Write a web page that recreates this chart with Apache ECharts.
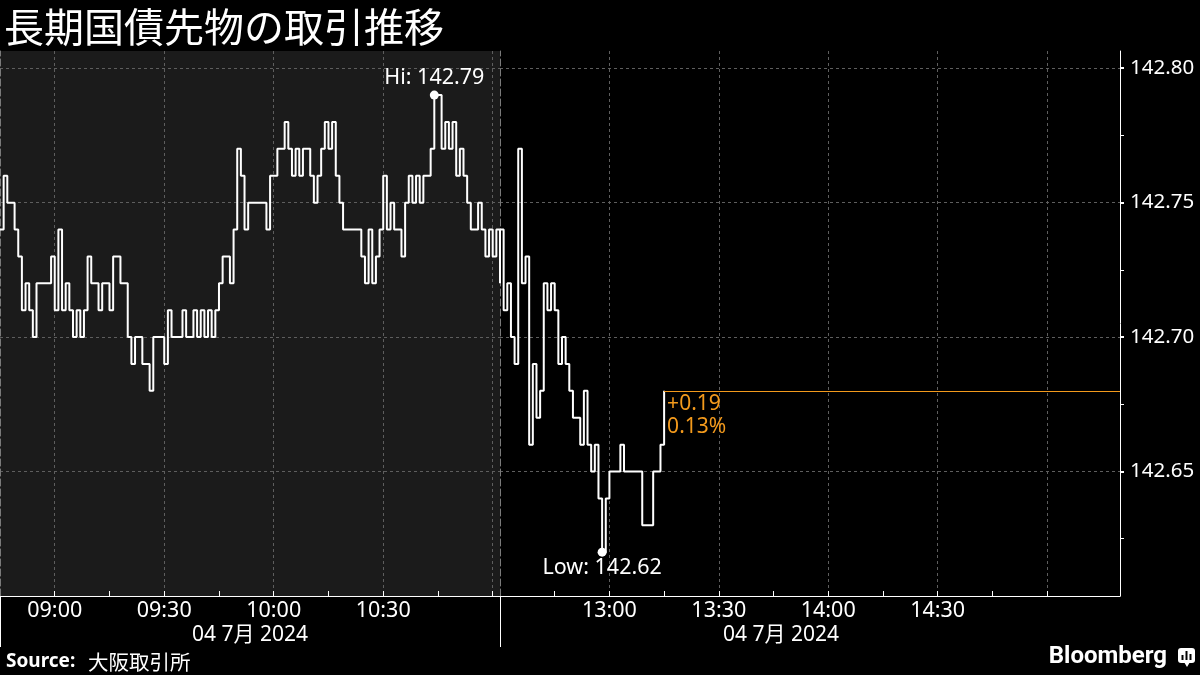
<!DOCTYPE html>
<html>
<head>
<meta charset="utf-8">
<script src="https://cdn.jsdelivr.net/npm/echarts@6/dist/echarts.min.js"></script>
<style>
  html, body { margin: 0; padding: 0; background: #000; }
  #chart { width: 1200px; height: 675px; }
</style>
</head>
<body>
<div id="chart"></div>
<script>
// minute categories for the two trading sessions
function buildTimes(from, to) {
    const toMin = s => Number(s.slice(0, 2)) * 60 + Number(s.slice(3, 5));
    const out = [];
    for (let m = toMin(from); m <= toMin(to); m++) {
        out.push(String(Math.floor(m / 60)).padStart(2, '0') + ':' + String(m % 60).padStart(2, '0'));
    }
    return out;
}
const amTimes = buildTimes('08:45', '11:02');
const pmTimes = buildTimes('12:30', '15:20');

// price, one value per minute
const amPrices = [
    142.74, 142.76, 142.75, 142.75, 142.74, 142.73, 142.71, 142.72, 142.71, 142.70,
    142.72, 142.72, 142.72, 142.72, 142.73, 142.71, 142.74, 142.71, 142.72, 142.71,
    142.70, 142.71, 142.70, 142.71, 142.73, 142.72, 142.72, 142.71, 142.72, 142.72,
    142.71, 142.73, 142.73, 142.72, 142.72, 142.70, 142.69, 142.70, 142.70, 142.69,
    142.69, 142.68, 142.70, 142.70, 142.70, 142.69, 142.71, 142.70, 142.70, 142.70,
    142.71, 142.70, 142.70, 142.71, 142.70, 142.71, 142.70, 142.71, 142.70, 142.71,
    142.72, 142.73, 142.73, 142.72, 142.74, 142.77, 142.76, 142.74, 142.75, 142.75,
    142.75, 142.75, 142.75, 142.74, 142.76, 142.76, 142.77, 142.77, 142.78, 142.77,
    142.76, 142.77, 142.76, 142.77, 142.77, 142.76, 142.75, 142.76, 142.77, 142.78,
    142.77, 142.78, 142.76, 142.75, 142.74, 142.74, 142.74, 142.74, 142.74, 142.73,
    142.72, 142.74, 142.72, 142.73, 142.74, 142.76, 142.74, 142.75, 142.74, 142.74,
    142.73, 142.75, 142.76, 142.75, 142.76, 142.75, 142.76, 142.76, 142.77, 142.79,
    142.79, 142.77, 142.78, 142.77, 142.78, 142.76, 142.77, 142.76, 142.75, 142.74,
    142.74, 142.75, 142.74, 142.73, 142.74, 142.73, 142.74, 142.72
];
const pmPrices = [
    142.74, 142.71, 142.72, 142.70, 142.69, 142.77, 142.72, 142.73, 142.66, 142.69,
    142.67, 142.68, 142.72, 142.71, 142.72, 142.71, 142.69, 142.70, 142.69, 142.68,
    142.67, 142.67, 142.66, 142.68, 142.66, 142.65, 142.66, 142.64, 142.62, 142.64,
    142.65, 142.65, 142.65, 142.66, 142.65, 142.65, 142.65, 142.65, 142.65, 142.63,
    142.63, 142.63, 142.65, 142.65, 142.66, 142.68
];
const prevClose = 142.49;

const yTicks = [142.65, 142.70, 142.75, 142.80];
const yMinorTicks = [142.625, 142.675, 142.725, 142.775];
const yMin = 142.6037;
const yMax = 142.8064;
const dateLabel = '04 7月 2024';

const font = "'Noto Sans', 'Noto Sans CJK JP', sans-serif";
const orange = '#f39a1c';
const mm = v => Number(v.slice(3, 5));

const gridLine = { show: true, lineStyle: { color: '#5e5e5e', width: 1, type: [3, 3] } };
const sessionEdge = { show: true, lineStyle: { color: '#7a7a7a', width: 1, type: [7, 3] } };

const last = pmPrices[pmPrices.length - 1];
const change = last - prevClose;
const pct = change / prevClose * 100;

const chart = echarts.init(document.getElementById('chart'));

const option = {
    backgroundColor: '#000',
    animation: false,
    textStyle: { fontFamily: font },
    grid: [
        { left: 0, top: 51, width: 500, height: 545, show: true, backgroundColor: '#1b1b1b', borderWidth: 0 },
        { left: 500, top: 51, width: 620, height: 545 }
    ],
    xAxis: [
        {
            type: 'category', gridIndex: 0, data: amTimes, boundaryGap: false,
            axisLine: { onZero: false, lineStyle: { color: '#fff', width: 1 } },
            axisTick: { inside: true, length: 5, lineStyle: { color: '#fff' },
                interval: (i, v) => mm(v) % 15 === 0 && v !== '08:45' },
            axisLabel: { color: '#fff', fontSize: 21.5, fontFamily: font, margin: 4,
                interval: (i, v) => mm(v) % 30 === 0 && v !== '11:00' },
            splitLine: Object.assign({}, gridLine, { interval: (i, v) => mm(v) % 30 === 0 })
        },
        {
            type: 'category', gridIndex: 1, data: pmTimes, boundaryGap: false,
            axisLine: { onZero: false, lineStyle: { color: '#fff', width: 1 } },
            axisTick: { inside: true, length: 5, lineStyle: { color: '#fff' },
                interval: (i, v) => mm(v) % 15 === 0 && v !== '12:30' && v !== '15:15' },
            axisLabel: { color: '#fff', fontSize: 21.5, fontFamily: font, margin: 4,
                interval: (i, v) => mm(v) % 30 === 0 && v !== '12:30' && v !== '15:00' },
            splitLine: Object.assign({}, gridLine, { interval: (i, v) => mm(v) % 30 === 0 && v !== '12:30' })
        }
    ],
    yAxis: [
        {
            type: 'value', gridIndex: 0, position: 'left', min: yMin, max: yMax,
            axisLine: sessionEdge,
            axisTick: { show: false, customValues: yTicks },
            axisLabel: { show: false, customValues: yTicks },
            splitLine: gridLine
        },
        {
            type: 'value', gridIndex: 0, position: 'right', min: yMin, max: yMax,
            axisLine: sessionEdge,
            axisTick: { show: false }, axisLabel: { show: false }, splitLine: { show: false }
        },
        {
            type: 'value', gridIndex: 1, position: 'right', min: yMin, max: yMax,
            axisLine: { show: true, lineStyle: { color: '#fff', width: 1 } },
            axisTick: { show: true, length: 4, lineStyle: { color: '#fff', width: 2 }, customValues: yTicks },
            axisLabel: { color: '#fff', fontSize: 20.5, fontFamily: font, margin: 10,
                customValues: yTicks, formatter: v => v.toFixed(2) },
            splitLine: gridLine
        },
        {
            // short minor ticks between the labelled values
            type: 'value', gridIndex: 1, position: 'right', min: yMin, max: yMax,
            axisLine: { show: false },
            axisTick: { show: true, length: 4, lineStyle: { color: '#fff', width: 1 }, customValues: yMinorTicks },
            axisLabel: { show: false, customValues: yMinorTicks },
            splitLine: { show: false }
        }
    ],
    series: [
        {
            type: 'line', xAxisIndex: 0, yAxisIndex: 0, data: amPrices, step: 'end',
            symbol: 'none', lineStyle: { color: '#fff', width: 2 },
            markPoint: {
                symbol: 'circle', symbolSize: 9, itemStyle: { color: '#fff' },
                label: { show: true, position: 'top', distance: 2, color: '#fff', fontSize: 21.5, fontFamily: font,
                    formatter: p => 'Hi: ' + p.value.toFixed(2) },
                data: [{ type: 'max' }]
            }
        },
        {
            type: 'line', xAxisIndex: 1, yAxisIndex: 2, data: pmPrices, step: 'end',
            symbol: 'none', lineStyle: { color: '#fff', width: 2 },
            markPoint: {
                symbol: 'circle', symbolSize: 9, itemStyle: { color: '#fff' },
                label: { show: true, position: 'bottom', distance: 0, color: '#fff', fontSize: 21.5, fontFamily: font,
                    formatter: p => 'Low: ' + p.value.toFixed(2) },
                data: [{ type: 'min' }]
            },
            markLine: {
                silent: true, symbol: 'none', label: { show: false },
                lineStyle: { color: orange, width: 1, type: 'solid' },
                data: [[
                    { coord: [pmTimes[pmPrices.length - 1], last] },
                    { coord: [pmTimes[pmTimes.length - 1], last] }
                ]]
            },
            endLabel: {
                show: true, distance: 3, offset: [0, 25], color: orange, fontSize: 21, lineHeight: 23,
                fontFamily: font, align: 'left',
                formatter: () => (change >= 0 ? '+' : '') + change.toFixed(2) + '\n' + pct.toFixed(2) + '%'
            }
        }
    ],
    graphic: [
        { type: 'text', x: 4, y: 27, style: { text: '長期国債先物の取引推移', fill: '#fff',
            font: "normal 40px 'Noto Sans CJK JP'", verticalAlign: 'middle' } },
        { type: 'text', x: 250, y: 635, style: { text: dateLabel, fill: '#fff',
            font: "normal 21px 'Noto Sans', 'Noto Sans CJK JP'", align: 'center', verticalAlign: 'middle' } },
        { type: 'text', x: 781, y: 635, style: { text: dateLabel, fill: '#fff',
            font: "normal 21px 'Noto Sans', 'Noto Sans CJK JP'", align: 'center', verticalAlign: 'middle' } },
        { type: 'line', shape: { x1: 0.5, y1: 596, x2: 0.5, y2: 647 }, style: { stroke: '#fff', lineWidth: 1 } },
        { type: 'line', shape: { x1: 500.5, y1: 596, x2: 500.5, y2: 647 }, style: { stroke: '#fff', lineWidth: 1 } },
        { type: 'text', x: 6, y: 662, style: { text: 'Source:', fill: '#fff',
            font: "bold 19px 'Noto Sans'", verticalAlign: 'middle' } },
        { type: 'text', x: 88, y: 662, style: { text: '大阪取引所', fill: '#fff',
            font: "normal 20.5px 'Noto Sans CJK JP'", verticalAlign: 'middle' } },
        { type: 'text', x: 1167, y: 657, style: { text: 'Bloomberg', fill: '#fff',
            font: "bold 24px Roboto", align: 'right', verticalAlign: 'middle' } },
        { type: 'rect', shape: { x: 1178, y: 648, width: 17, height: 15, r: 3 }, style: { fill: '#fff' } },
        { type: 'polygon', shape: { points: [[1184, 662], [1190, 662], [1187, 667]] }, style: { fill: '#fff' } },
        { type: 'rect', shape: { x: 1181.5, y: 655, width: 2, height: 5 }, style: { fill: '#000' } },
        { type: 'rect', shape: { x: 1185.5, y: 651, width: 2, height: 9 }, style: { fill: '#000' } },
        { type: 'rect', shape: { x: 1189.5, y: 654, width: 2, height: 6 }, style: { fill: '#000' } }
    ]
};

chart.setOption(option);
</script>
</body>
</html>
